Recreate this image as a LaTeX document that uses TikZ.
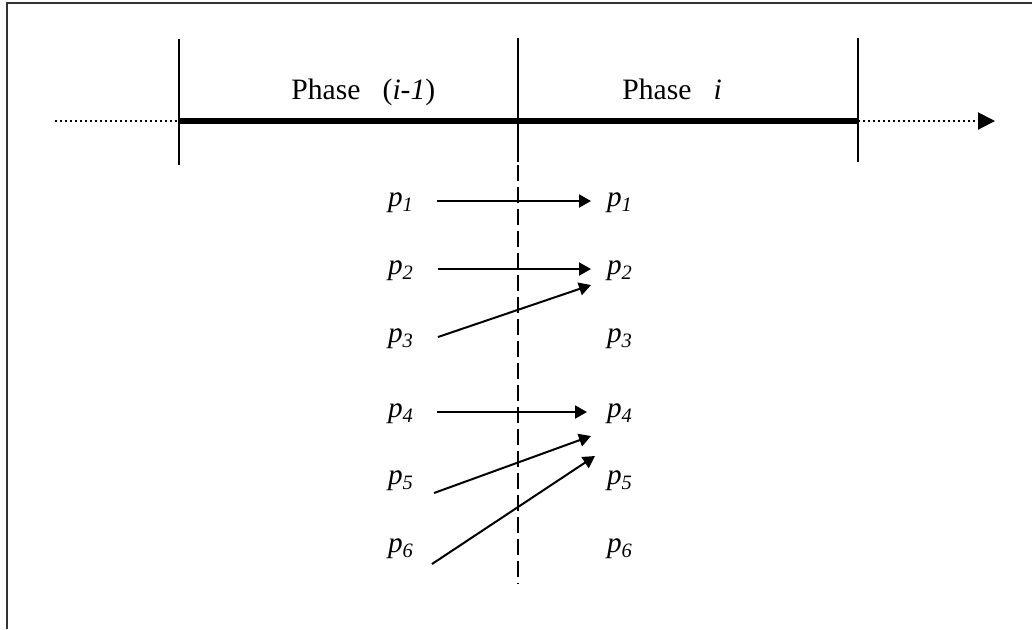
\documentclass[tikz,border=0pt]{standalone}
\usepackage{fontspec}
\setmainfont{Liberation Serif}
\usetikzlibrary{arrows.meta}
\begin{document}
\begin{tikzpicture}[x=0.5pt,y=-0.5pt,
  lab/.style={font=\fontsize{14.6pt}{16pt}\selectfont\itshape, inner sep=0pt},
  ttl/.style={font=\fontsize{14.8pt}{16pt}\selectfont, inner sep=0pt, anchor=base west},
  thin/.style={line width=1pt},
  conn/.style={line width=1pt, -{Triangle[length=6pt,width=6.5pt]}},
  dotline/.style={line width=1pt, dash pattern=on 1pt off 1.5pt}]
\useasboundingbox (0,0) rectangle (1032,629);
% frame (only top and left visible)
\draw[line width=1pt, black!80] (7,629) -- (7,3) -- (1032,3);
% timeline
\coordinate (tl0) at (55,121);
\coordinate (ta) at (179,121);
\coordinate (tb) at (518,121);
\coordinate (tc) at (858,121);
\coordinate (tend) at (995,121);
\draw[dotline] (tl0) -- (ta);
\draw[dotline] (tc) -- (977,121);
\draw[line width=1pt, -{Triangle[length=8.5pt,width=8.5pt]}, dash pattern=on 1pt off 1.5pt] (tc) -- (tend);
\draw[line width=2.6pt] (ta) -- (tc);
\draw[thin] (179,39) -- (179,165);
\draw[thin] (858,38) -- (858,162);
\draw[thin] (518,38) -- (518,162);
\draw[line width=1pt, dash pattern=on 8pt off 3pt] (518,165) -- (518,584);
\node[ttl] (ph1) at (291,99) {Phase\ \ \ (\textit{i-1})};
\node[ttl] (ph2) at (622,99) {Phase\ \ \ \textit{i}};
% labels
\foreach \k/\y in {1/203,2/271,3/339,4/414,5/481,6/549}{
  \node[lab] (l\k) at (401,\y) {p\textsubscript{\k}};
  \node[lab] (r\k) at (620,\y) {p\textsubscript{\k}};
}
\coordinate (a1s) at (437,201); \coordinate (a1e) at (591,201);
\coordinate (a2s) at (438,269); \coordinate (a2e) at (591,269);
\coordinate (a3s) at (438,337); \coordinate (a3e) at (591,285);
\coordinate (a4s) at (437,412); \coordinate (a4e) at (587,412);
\coordinate (a5s) at (434,493); \coordinate (a5e) at (591,436);
\coordinate (a6s) at (432,564); \coordinate (a6e) at (595,456);
\foreach \k in {1,...,6}{\draw[conn] (a\k s) -- (a\k e);}
\end{tikzpicture}
\end{document}
